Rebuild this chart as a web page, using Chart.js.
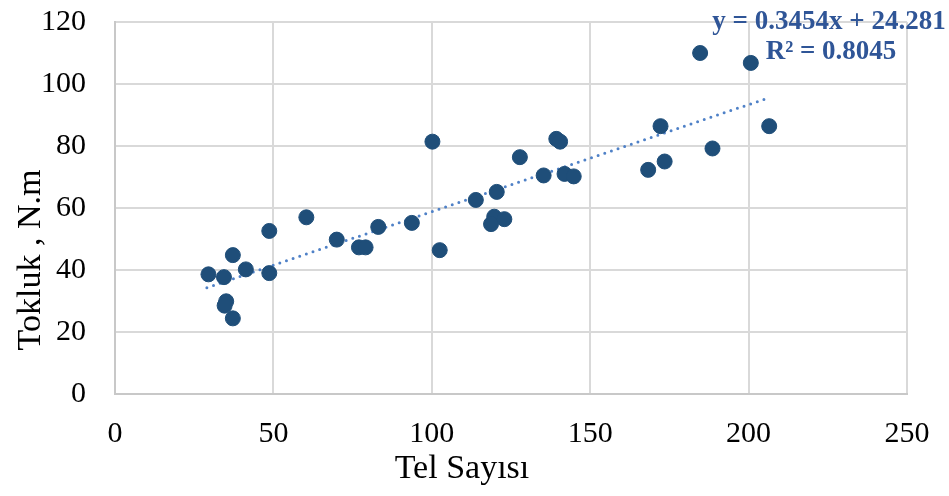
<!DOCTYPE html>
<html><head><meta charset="utf-8">
<script src="https://cdn.jsdelivr.net/npm/chart.js@4/dist/chart.umd.min.js"></script>
<style>html,body{margin:0;padding:0;background:#fff}#wrap{width:949px;height:496px}</style>
</head><body><div id="wrap"><canvas id="c" width="949" height="496"></canvas></div>
<script>
const telSayisi = [29.5,34.4,37.2,41.3,48.7,48.7,60.4,35.1,34.6,37.2,70.0,77.0,79.1,83.1,93.7,100.2,102.5,113.9,120.5,119.7,118.7,122.9,127.8,135.3,139.3,140.5,141.9,144.8,168.3,172.2,173.5,184.7,188.6,200.7,206.5];
const tokluk =    [38.6,37.7,44.8,40.2,52.6,39.0,57.0,29.9,28.5,24.4,49.8,47.3,47.3,53.9,55.2,81.4,46.4,62.6,65.2,57.2,54.8,56.4,76.4,70.5,82.3,81.4,71.0,70.2,72.3,86.4,75.0,110.0,79.2,106.8,86.4];
const trendSlope = 0.3454, trendIntercept = 24.281;
const trendX = [29, 205];
const xTicks = [0,50,100,150,200,250];
const yTicks = [0,20,40,60,80,100,120];
const eqLines = ["y = 0.3454x + 24.281", "R² = 0.8045"];
const xTitle = "Tel Sayısı";
const yTitle = "Tokluk , N.m";

const pts = telSayisi.map((x,i)=>({x, y: tokluk[i]}));
const trend = trendX.map(x=>({x, y: trendSlope*x + trendIntercept}));

const textPlugin = {
  id:'texts',
  afterDraw(chart){
    const ctx = chart.ctx;
    ctx.save();
    ctx.font = 'bold 27px "Liberation Serif"';
    ctx.fillStyle = '#2F5597';
    ctx.textAlign = 'center';
    ctx.textBaseline = 'alphabetic';
    ctx.fillText(eqLines[0], 829, 29);
    ctx.fillText(eqLines[1], 831, 59);
    ctx.fillStyle = '#000';
    ctx.font = '34px "Liberation Serif"';
    ctx.textBaseline = 'middle';
    ctx.fillText(xTitle, 462, 469);
    ctx.translate(31, 260);
    ctx.rotate(-Math.PI/2);
    ctx.fillText(yTitle, 0, 0);
    ctx.restore();
  }
};

new Chart(document.getElementById('c'), {
  type: 'scatter',
  data: { datasets: [
    { data: pts, backgroundColor:'#1F4E79', borderColor:'#1F4E79', pointRadius:7.5, pointHoverRadius:7.5, order:1 },
    { type:'line', data: trend, borderColor:'#4F81C7', borderWidth:3, borderDash:[0,7], borderCapStyle:'round', pointRadius:0, fill:false, order:2 }
  ]},
  options: {
    responsive:false, animation:false, devicePixelRatio:1,
    layout:{ padding:{ left:0, right:42, top:22, bottom:0 } },
    plugins:{ legend:{display:false}, tooltip:{enabled:false} },
    scales:{
      x:{ type:'linear', min:0, max:250,
        afterBuildTicks: s => { s.ticks = xTicks.map(v=>({value:v})); },
        afterFit: s => { s.height = 496 - 394; s.paddingLeft = 0; s.paddingRight = 0; },
        grid:{ color:'#D9D9D9', lineWidth:2, drawTicks:false },
        border:{ color:'#C8C8C8', width:2 },
        ticks:{ font:{family:'"Liberation Serif"', size:30}, color:'#000', padding:22, maxRotation:0 }
      },
      y:{ type:'linear', min:0, max:120,
        afterBuildTicks: s => { s.ticks = yTicks.map(v=>({value:v})); },
        afterFit: s => { s.width = 115; s.paddingTop = 0; s.paddingBottom = 0; },
        grid:{ color:'#D9D9D9', lineWidth:2, drawTicks:false },
        border:{ color:'#C8C8C8', width:2 },
        ticks:{ font:{family:'"Liberation Serif"', size:30}, color:'#000', padding:29 }
      }
    }
  },
  plugins:[textPlugin]
});
</script></body></html>
